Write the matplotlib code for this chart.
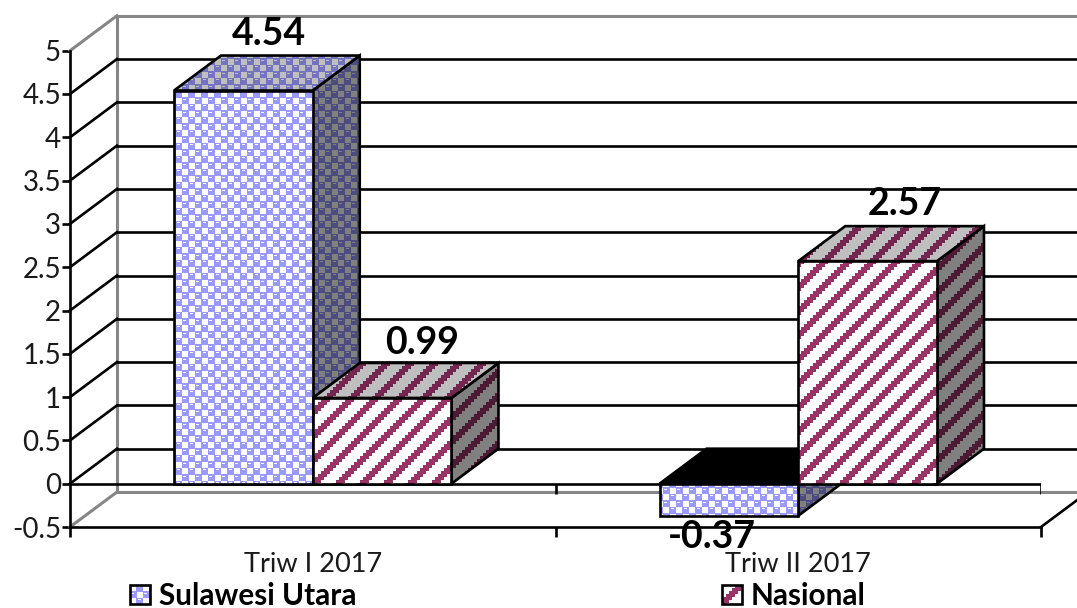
import numpy as np
import matplotlib
matplotlib.use("Agg")
import matplotlib.pyplot as plt
from matplotlib.patches import Polygon
from matplotlib.transforms import IdentityTransform

plt.rcParams['font.family'] = ['Lato', 'DejaVu Sans']

categories = ['Triw I 2017', 'Triw II 2017']
sulawesi = [4.54, -0.37]
nasional = [0.99, 2.57]
y_ticks = [-0.5, 0, 0.5, 1, 1.5, 2, 2.5, 3, 3.5, 4, 4.5, 5]
y_labels = ['-0.5', '0', '0.5', '1', '1.5', '2', '2.5', '3', '3.5', '4', '4.5', '5']

W, H = 1077, 608
GRAY = '#868686'
LW = 1.9
BAR_W = 1 / 3.5
DX = 47 / 485.5   # depth of the fake 3d box, data units
DY = 35 / 86.6

# Excel style pixel patterns, 13 px checker with a small arc in the blue cells
yy, xx = np.mgrid[0:H, 0:W]
cx, cy = xx % 13, yy % 13
white = ((cx < 6) & (cy < 6)) | ((cx >= 7) & (cx < 13) & (cy >= 7) & (cy < 13))
white |= (cy == 1) & (cx >= 8) & (cx <= 10)
white |= (cy == 8) & (cx >= 1) & (cx <= 3)
mask_sphere = ~white
mask_diag = ((xx // 3 + yy // 3) % 8) < 3


def texture(mask, fg, bg):
    fg = np.array(matplotlib.colors.to_rgb(fg))
    bg = np.array(matplotlib.colors.to_rgb(bg))
    return np.where(mask[..., None], fg, bg)


tex_s = {'front': texture(mask_sphere, '#9999FF', '#FFFFFF'),
         'top': texture(mask_sphere, '#7373BF', '#BFBFBF'),
         'side': texture(mask_sphere, '#4C4C80', '#808080')}
tex_n = {'front': texture(mask_diag, '#993366', '#FFFFFF'),
         'top': texture(mask_diag, '#732650', '#BFBFBF'),
         'side': texture(mask_diag, '#4D1A33', '#808080')}

fig = plt.figure(figsize=(W / 100, H / 100), dpi=100, facecolor='white')
ax = fig.add_axes([70 / W, (H - 527) / H, 971 / W, 476.3 / H])
ax.set_xlim(0, 2)
ax.set_ylim(-0.5, 5)
ax.patch.set_visible(False)

inv = ax.transData.inverted()
x0, y0 = inv.transform((0, 0))
x1, y1 = inv.transform((W, H))
z = [3]


def textured_poly(pts, tex, transform=None):
    z[0] += 1
    tr = transform if transform is not None else ax.transData
    im = ax.imshow(tex, extent=(x0, x1, y0, y1), origin='upper', aspect='auto',
                   interpolation='nearest', zorder=z[0])
    poly = Polygon(pts, closed=True, fc='none', ec='black', lw=LW,
                   transform=tr, zorder=z[0] + 0.5, clip_on=False, joinstyle='miter')
    ax.add_patch(poly)
    im.set_clip_box(fig.bbox)
    im.set_clip_path(poly)


def draw_bar(left, value, tex):
    right = left + BAR_W
    hi, lo = max(value, 0), min(value, 0)
    textured_poly([(right, lo), (right + DX, lo + DY), (right + DX, hi + DY), (right, hi)], tex['side'])
    if value < 0:
        # underside seen from above, Excel paints it black
        z[0] += 1
        ax.add_patch(Polygon([(left, hi), (left + DX, hi + DY), (right + DX, hi + DY), (right, hi)],
                             closed=True, fc='black', ec='black', lw=LW, zorder=z[0], clip_on=False))
    else:
        textured_poly([(left, hi), (left + DX, hi + DY), (right + DX, hi + DY), (right, hi)], tex['top'])
    textured_poly([(left, lo), (right, lo), (right, hi), (left, hi)], tex['front'])


# walls and gridlines
for t in y_ticks:
    c = GRAY if t in (-0.5, 5) else 'black'
    lw = 2.2 if t in (-0.5, 5) else LW
    ax.plot([0, DX], [t, t + DY], color=c, lw=lw, clip_on=False, zorder=2)
    ax.plot([DX, 2 + DX], [t + DY, t + DY], color=c, lw=lw, clip_on=False, zorder=2)
ax.plot([DX, DX], [-0.5 + DY, 5 + DY], color=GRAY, lw=2.2, clip_on=False, zorder=1)
ax.plot([0, 2], [0, 0], color='black', lw=LW, zorder=3)
ax.plot([2, 2 + DX], [-0.5, -0.5 + DY], color='black', lw=LW, clip_on=False, zorder=3)
ax.vlines([1, 2], -0.12, 0, color='black', lw=LW, zorder=3)

for i in range(len(categories)):
    draw_bar(i + 0.5 - BAR_W, sulawesi[i], tex_s)
    draw_bar(i + 0.5, nasional[i], tex_n)
ax.set_xlim(0, 2)
ax.set_ylim(-0.5, 5)

# data labels, offsets in pixels from the front top centre of the bar
label_off = [(25, 57), (40, 55), (-17, -21), (37, 57)]
vals = [sulawesi[0], nasional[0], sulawesi[1], nasional[1]]
lefts = [0.5 - BAR_W / 2, 0.5 + BAR_W / 2, 1.5 - BAR_W / 2, 1.5 + BAR_W / 2]
for k in range(4):
    ax.annotate(f'{vals[k]:.2f}', xy=(lefts[k], vals[k]), xytext=label_off[k],
                textcoords='offset pixels', ha='center', va='center', fontsize=27,
                fontweight='bold', color='black', zorder=50, annotation_clip=False)

for s in ['top', 'right']:
    ax.spines[s].set_visible(False)
for s in ['left', 'bottom']:
    ax.spines[s].set_linewidth(LW)
    ax.spines[s].set_zorder(30)
ax.set_yticks(y_ticks)
ax.set_yticklabels(y_labels, fontsize=20, color='#1a1a1a')
ax.tick_params(axis='y', length=5.5, width=LW, pad=1)
ax.set_xticks([0, 1, 2])
ax.set_xticklabels([])
ax.tick_params(axis='x', which='major', length=7, width=LW)
ax.set_xticks([0.5, 1.5], minor=True)
ax.set_xticklabels(categories, minor=True, fontsize=19.5, color='#1a1a1a')
ax.tick_params(axis='x', which='minor', length=0, pad=18)

# legend, in screen pixels
leg_tr = IdentityTransform()
for (px, name, tex) in [(130, 'Sulawesi Utara', tex_s), (722, 'Nasional', tex_n)]:
    pts = [(px, H - 604), (px + 20, H - 604), (px + 20, H - 585), (px, H - 585)]
    textured_poly(pts, tex['front'], transform=leg_tr)
    fig.text((px + 29) / W, (H - 596) / H, name, fontsize=21.4, fontweight='bold',
             color='black', va='center', ha='left')

fig.savefig('out.png', dpi=100, facecolor='white')
